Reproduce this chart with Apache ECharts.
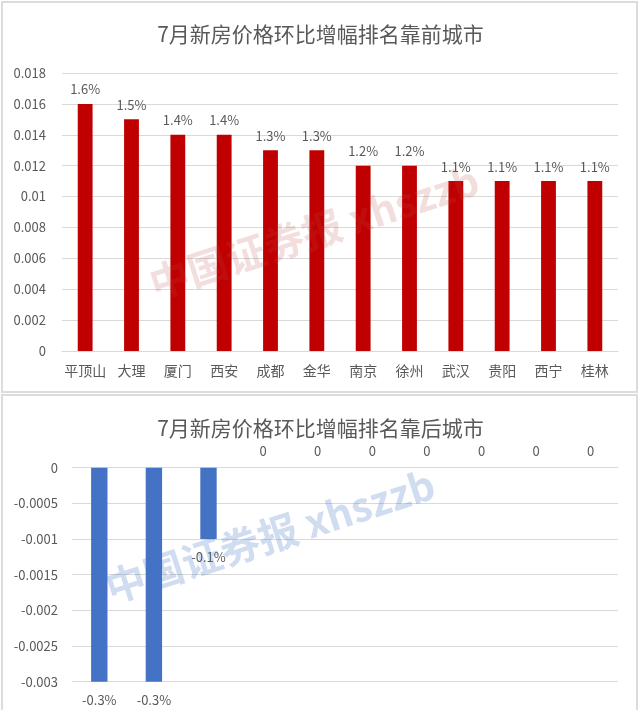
<!DOCTYPE html>
<html>
<head>
<meta charset="utf-8">
<script src="https://cdn.jsdelivr.net/npm/echarts@6/dist/echarts.min.js"></script>
<style>
html,body{margin:0;padding:0;background:#fff;}
#c{width:641px;height:710px;}
</style>
</head>
<body>
<div id="c"></div>
<script>
var topTitle = '7月新房价格环比增幅排名靠前城市';
var bottomTitle = '7月新房价格环比增幅排名靠后城市';
var topCities = ['平顶山','大理','厦门','西安','成都','金华','南京','徐州','武汉','贵阳','西宁','桂林'];
var topValues = [0.016,0.015,0.014,0.014,0.013,0.013,0.012,0.012,0.011,0.011,0.011,0.011];
var bottomCities = ['1','2','3','4','5','6','7','8','9','10'];
var bottomValues = [-0.003,-0.003,-0.001,0,0,0,0,0,0,0];
var watermark = '中国证券报 xhszzb';

var FONT = '"Noto Sans CJK SC", "Noto Sans", sans-serif';
var TXT = '#595959';
var GRID = '#d9d9d9';

var chart = echarts.init(document.getElementById('c'));

function pct(v){ return v === 0 ? '0' : (v*100).toFixed(1) + '%'; }

var bottomData = bottomValues.map(function(v){
  return {
    value: v,
    label: v < 0 ? {position:'bottom', distance: 12} : {position:'top', distance: 10}
  };
});

chart.setOption({
  backgroundColor: '#fff',
  animation: false,
  textStyle: {fontFamily: FONT},
  title: [
    {text: topTitle, left: 'center', top: 19, textStyle:{fontSize:21, fontWeight:'normal', color:TXT, fontFamily:FONT}},
    {text: bottomTitle, left: 'center', top: 413, textStyle:{fontSize:21, fontWeight:'normal', color:TXT, fontFamily:FONT}}
  ],
  grid: [
    {left: 62, right: 23, top: 73, bottom: 359, containLabel:false},
    {left: 72, right: 23, top: 467.7, height: 214, containLabel:false}
  ],
  xAxis: [
    {type:'category', gridIndex:0, data: topCities,
     axisLine:{lineStyle:{color:GRID}}, axisTick:{show:false},
     axisLabel:{color:TXT, fontSize:14, margin:13, interval:0, fontFamily:FONT}},
    {type:'category', gridIndex:1, data: bottomCities, position:'top',
     axisLine:{onZero:true, lineStyle:{color:GRID}}, axisTick:{show:false},
     axisLabel:{show:false}}
  ],
  yAxis: [
    {type:'value', gridIndex:0, min:0, max:0.018, interval:0.002,
     axisLine:{show:false}, axisTick:{show:false},
     splitLine:{lineStyle:{color:GRID}},
     axisLabel:{color:TXT, fontSize:13, margin:16, fontFamily:FONT,
       formatter:function(v){ return String(+v.toFixed(3)); }}},
    {type:'value', gridIndex:1, min:-0.003, max:0, interval:0.0005,
     axisLine:{show:false}, axisTick:{show:false},
     splitLine:{lineStyle:{color:GRID}},
     axisLabel:{color:TXT, fontSize:13, margin:14, fontFamily:FONT,
       formatter:function(v){ return String(+v.toFixed(4)); }}}
  ],
  series: [
    {type:'bar', xAxisIndex:0, yAxisIndex:0, data: topValues, barWidth:'32%',
     itemStyle:{color:'#C00000'},
     label:{show:true, position:'top', distance:8, color:TXT, fontSize:13, fontFamily:FONT, formatter:function(p){return pct(p.value);}}},
    {type:'bar', xAxisIndex:1, yAxisIndex:1, data: bottomData, barWidth:'30%',
     itemStyle:{color:'#4472C4'},
     label:{show:true, color:TXT, fontSize:13, fontFamily:FONT, formatter:function(p){return pct(p.value);}}}
  ],
  graphic: [
    {type:'rect', z:-1, shape:{x:2, y:2, width:635, height:390}, style:{fill:'#fff', stroke:'#dcdcdc', lineWidth:2}},
    {type:'rect', z:-1, shape:{x:2, y:395, width:635, height:320}, style:{fill:'#fff', stroke:'#dcdcdc', lineWidth:2}},
    {type:'text', z:100, x:314, y:232, rotation: 18*Math.PI/180,
     style:{text: watermark, fontSize:40, fontWeight:'bold', fontFamily:FONT, fill:'rgba(190,70,70,0.18)', align:'center', verticalAlign:'middle'}},
    {type:'text', z:100, x:270, y:536, rotation: 18*Math.PI/180,
     style:{text: watermark, fontSize:40, fontWeight:'bold', fontFamily:FONT, fill:'rgba(68,114,196,0.25)', align:'center', verticalAlign:'middle'}}
  ]
});
</script>
</body>
</html>
